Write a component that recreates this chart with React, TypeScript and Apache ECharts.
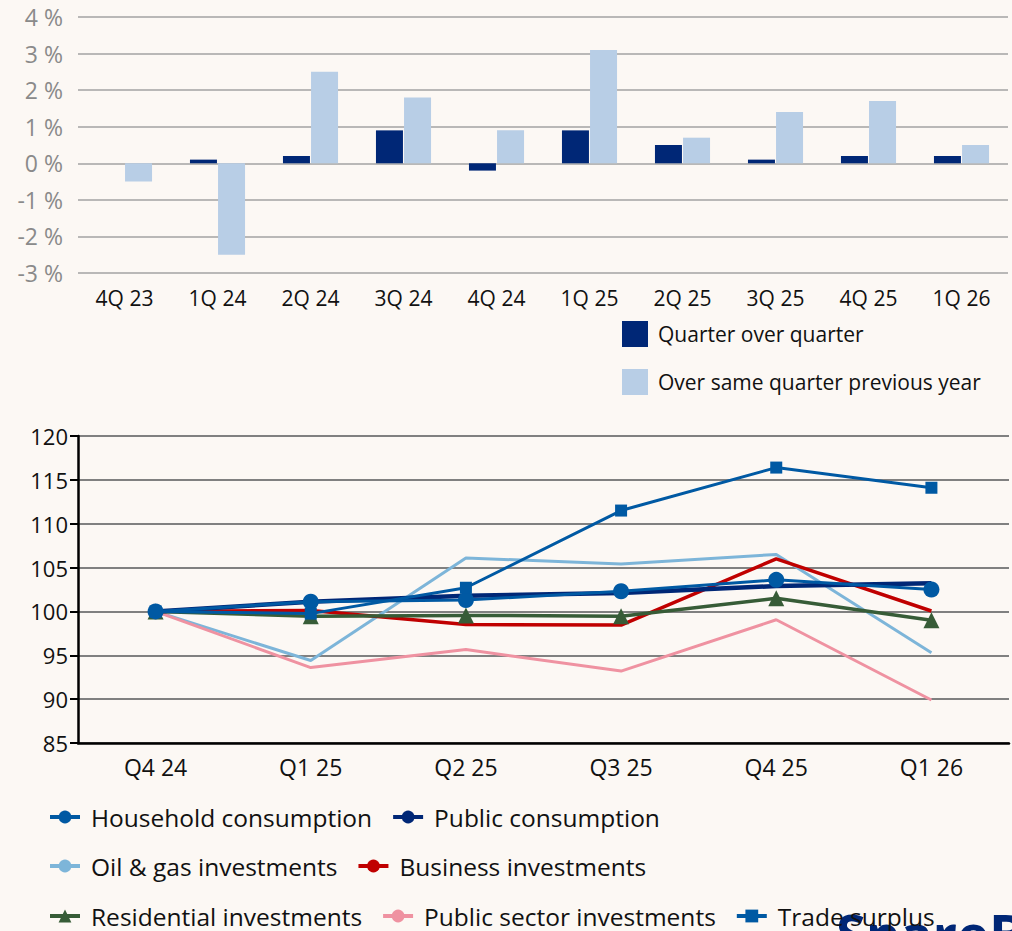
import React, { useEffect, useRef } from "react";
import * as echarts from "echarts";

const barCategories = ["4Q 23", "1Q 24", "2Q 24", "3Q 24", "4Q 24", "1Q 25", "2Q 25", "3Q 25", "4Q 25", "1Q 26"];
const qoqValues = [0, 0.1, 0.2, 0.9, -0.2, 0.9, 0.5, 0.1, 0.2, 0.2];
const yoyValues = [-0.5, -2.5, 2.5, 1.8, 0.9, 3.1, 0.7, 1.4, 1.7, 0.5];

const lineCategories = ["Q4 24", "Q1 25", "Q2 25", "Q3 25", "Q4 25", "Q1 26"];
const household = [100, 101.1, 101.3, 102.3, 103.6, 102.5];
const publicCons = [100, 101.1, 101.8, 102.1, 102.9, 103.2];
const oilGas = [100, 94.4, 106.1, 105.4, 106.5, 95.3];
const business = [100, 100.1, 98.5, 98.45, 106.0, 100.05];
const residential = [100, 99.45, 99.55, 99.45, 101.5, 99.0];
const publicSector = [100, 93.6, 95.65, 93.2, 99.05, 89.9];
const tradeSurplus = [100, 99.75, 102.7, 111.5, 116.4, 114.1];

const FONT = "Open Sans";
const NAVY = "#002776";
const LIGHT = "#b8cee6";
const BLUE = "#0059a3";

export default function App() {
  const ref = useRef<HTMLDivElement>(null);
  useEffect(() => {
    document.body.style.margin = "0";
    const chart = echarts.init(ref.current!, null, { renderer: "svg" });
    const legendText = { fontSize: 24.5, color: "#111", fontFamily: FONT, padding: [0, 0, 0, 6], lineHeight: 28 };
    const legendLine = { width: 4 };
    chart.setOption({
      animation: false,
      backgroundColor: "#fcf8f4",
      textStyle: { fontFamily: FONT },
      grid: [
        { left: 78, right: 4, top: 17, height: 256 },
        { left: 78, right: 3, top: 436, height: 307 },
      ],
      xAxis: [
        {
          type: "category",
          gridIndex: 0,
          data: barCategories,
          axisLine: { show: false, onZero: false },
          axisTick: { show: false },
          axisLabel: { fontSize: 21, color: "#111", margin: 14 },
        },
        {
          type: "category",
          gridIndex: 1,
          data: lineCategories,
          axisLine: { show: true, lineStyle: { color: "#000", width: 2.5 } },
          axisTick: { show: false },
          axisLabel: { fontSize: 23, color: "#111", margin: 12 },
        },
      ],
      yAxis: [
        {
          type: "value",
          gridIndex: 0,
          min: -3,
          max: 4,
          interval: 1,
          axisLine: { show: false },
          axisTick: { show: false },
          axisLabel: { fontSize: 23, color: "#8a8a8a", margin: 15, formatter: "{value} %" },
          splitLine: { lineStyle: { color: "#a3a3a3", width: 1.5 } },
        },
        {
          type: "value",
          gridIndex: 1,
          min: 85,
          max: 120,
          interval: 5,
          axisLine: { show: true, lineStyle: { color: "#000", width: 2.5 } },
          axisTick: { show: true, length: 8, lineStyle: { color: "#000", width: 2 } },
          axisLabel: { fontSize: 22, color: "#111", margin: 10 },
          splitLine: { lineStyle: { color: "#808080", width: 2 } },
        },
      ],
      legend: [
        {
          orient: "vertical",
          left: 622,
          top: 321,
          padding: 0,
          itemWidth: 26,
          itemHeight: 26,
          itemGap: 22,
          icon: "rect",
          data: ["Quarter over quarter", "Over same quarter previous year"],
          textStyle: { fontSize: 21, color: "#111", padding: [0, 0, 0, 5] },
        },
        {
          left: 48,
          top: 803,
          padding: 0,
          itemWidth: 30,
          itemHeight: 16,
          itemGap: 19,
          lineStyle: legendLine,
          data: ["Household consumption", "Public consumption"],
          textStyle: legendText,
        },
        {
          left: 48,
          top: 852,
          padding: 0,
          itemWidth: 30,
          itemHeight: 16,
          itemGap: 19,
          lineStyle: legendLine,
          data: ["Oil & gas investments", "Business investments"],
          textStyle: legendText,
        },
        {
          left: 48,
          top: 902,
          padding: 0,
          itemWidth: 30,
          itemHeight: 16,
          itemGap: 19,
          lineStyle: legendLine,
          data: ["Residential investments", "Public sector investments", "Trade surplus"],
          textStyle: legendText,
        },
      ],
      graphic: [
        {
          type: "text",
          left: 836,
          top: 906,
          z: -10,
          silent: true,
          style: { text: "SpareBank 1", fill: NAVY, font: "bold 54px " + FONT },
        },
      ],
      series: [
        {
          name: "Quarter over quarter",
          type: "bar",
          xAxisIndex: 0,
          yAxisIndex: 0,
          data: qoqValues,
          barWidth: 27,
          barGap: "4%",
          itemStyle: { color: NAVY },
        },
        {
          name: "Over same quarter previous year",
          type: "bar",
          xAxisIndex: 0,
          yAxisIndex: 0,
          data: yoyValues,
          barWidth: 27,
          barGap: "4%",
          itemStyle: { color: LIGHT },
        },
        {
          name: "Oil & gas investments",
          type: "line",
          xAxisIndex: 1,
          yAxisIndex: 1,
          data: oilGas,
          symbol: "none",
          lineStyle: { color: "#7db5d9", width: 3 },
          itemStyle: { color: "#7db5d9" },
        },
        {
          name: "Public sector investments",
          type: "line",
          xAxisIndex: 1,
          yAxisIndex: 1,
          data: publicSector,
          symbol: "none",
          lineStyle: { color: "#ef92a1", width: 3 },
          itemStyle: { color: "#ef92a1" },
        },
        {
          name: "Business investments",
          type: "line",
          xAxisIndex: 1,
          yAxisIndex: 1,
          data: business,
          symbol: "none",
          lineStyle: { color: "#c00000", width: 3.5 },
          itemStyle: { color: "#c00000" },
        },
        {
          name: "Residential investments",
          type: "line",
          xAxisIndex: 1,
          yAxisIndex: 1,
          data: residential,
          symbol: "triangle",
          symbolSize: 16,
          lineStyle: { color: "#375c37", width: 3.5 },
          itemStyle: { color: "#375c37" },
        },
        {
          name: "Public consumption",
          type: "line",
          xAxisIndex: 1,
          yAxisIndex: 1,
          data: publicCons,
          symbol: "none",
          lineStyle: { color: NAVY, width: 4.5 },
          itemStyle: { color: NAVY },
        },
        {
          name: "Household consumption",
          type: "line",
          xAxisIndex: 1,
          yAxisIndex: 1,
          data: household,
          symbol: "circle",
          symbolSize: 16,
          lineStyle: { color: BLUE, width: 3 },
          itemStyle: { color: BLUE },
        },
        {
          name: "Trade surplus",
          type: "line",
          xAxisIndex: 1,
          yAxisIndex: 1,
          data: tradeSurplus,
          symbol: "rect",
          symbolSize: 12,
          lineStyle: { color: BLUE, width: 3 },
          itemStyle: { color: BLUE },
        },
      ],
    });
    return () => chart.dispose();
  }, []);
  return <div ref={ref} style={{ width: 1012, height: 931 }} />;
}
